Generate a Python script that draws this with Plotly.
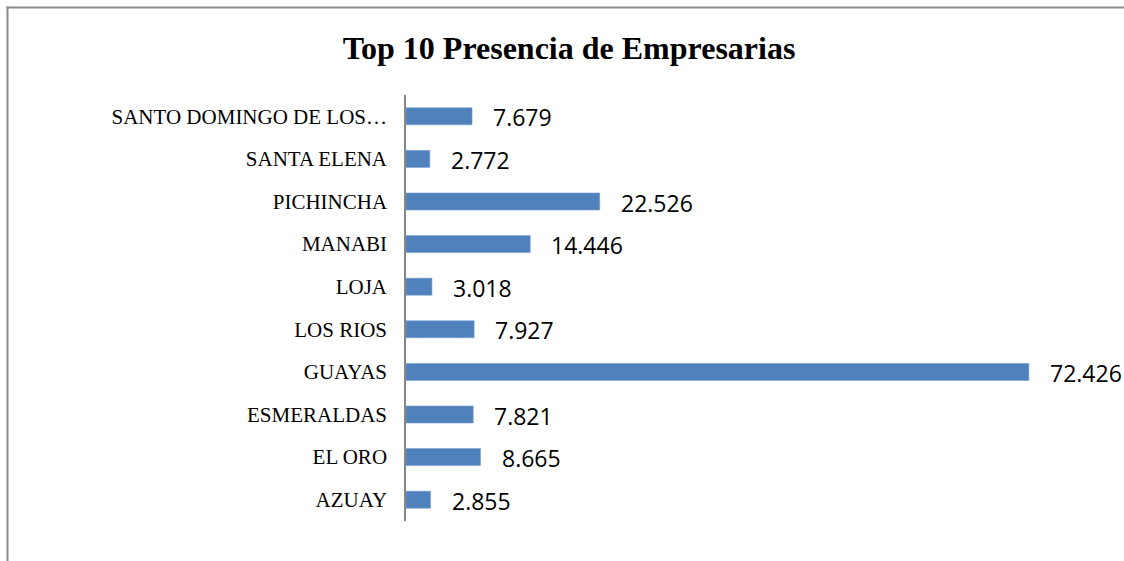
import plotly.graph_objects as go

categories = ["AZUAY", "EL ORO", "ESMERALDAS", "GUAYAS", "LOS RIOS", "LOJA",
              "MANABI", "PICHINCHA", "SANTA ELENA", "SANTO DOMINGO DE LOS…"]
values = [2855, 8665, 7821, 72426, 7927, 3018, 14446, 22526, 2772, 7679]
title_text = "Top 10 Presencia de Empresarias"

labels = [f"{v:,}".replace(",", ".") for v in values]

W, H = 1124, 561
ML, MR, MT, MB = 406, 30, 95, 40
PW, PH = W - ML - MR, H - MT - MB

fig = go.Figure()
fig.add_trace(go.Bar(
    x=values, y=categories, orientation="h",
    marker=dict(color="#4F81BD", line=dict(color="#7A9FD0", width=0.6)),
    hoverinfo="x+y",
))

for c, v, t in zip(categories, values, labels):
    fig.add_annotation(x=v, y=c, xref="x", yref="y", text=t, showarrow=False,
                       xanchor="left", yanchor="middle", xshift=19, yshift=-1,
                       font=dict(family="Open Sans", size=23, color="#000000"))

def px_x(px):
    return (px - ML) / PW

def px_y(py):
    return (H - MB - py) / PH

frame = dict(color="#8C8C8C", width=2)
fig.add_shape(type="line", xref="paper", yref="paper",
              x0=px_x(7.5), x1=px_x(7.5), y0=px_y(6.5), y1=px_y(H + 10), line=frame)
fig.add_shape(type="line", xref="paper", yref="paper",
              x0=px_x(6.5), x1=px_x(W + 10), y0=px_y(7.5), y1=px_y(7.5), line=frame)

fig.update_layout(
    width=W, height=H,
    margin=dict(l=ML, r=MR, t=MT, b=MB),
    paper_bgcolor="white", plot_bgcolor="white",
    bargap=0.6,
    showlegend=False,
    title=dict(text=f"<b>{title_text}</b>", x=569 / W, xanchor="center",
               y=1 - 48 / H, yanchor="middle", yref="container",
               font=dict(family="Liberation Serif", size=32, color="#000000")),
    xaxis=dict(range=[0, 80000], visible=False, showgrid=False, zeroline=False),
    yaxis=dict(showline=True, linecolor="#868686", linewidth=1.5, ticks="",
               ticklabelstandoff=13, showgrid=False,
               tickfont=dict(family="Liberation Serif", size=21, color="#000000")),
)

fig.write_html(
    "out.html",
    config={"displayModeBar": False},
    post_script="document.body.style.margin='0px';document.body.style.overflow='hidden';",
)
